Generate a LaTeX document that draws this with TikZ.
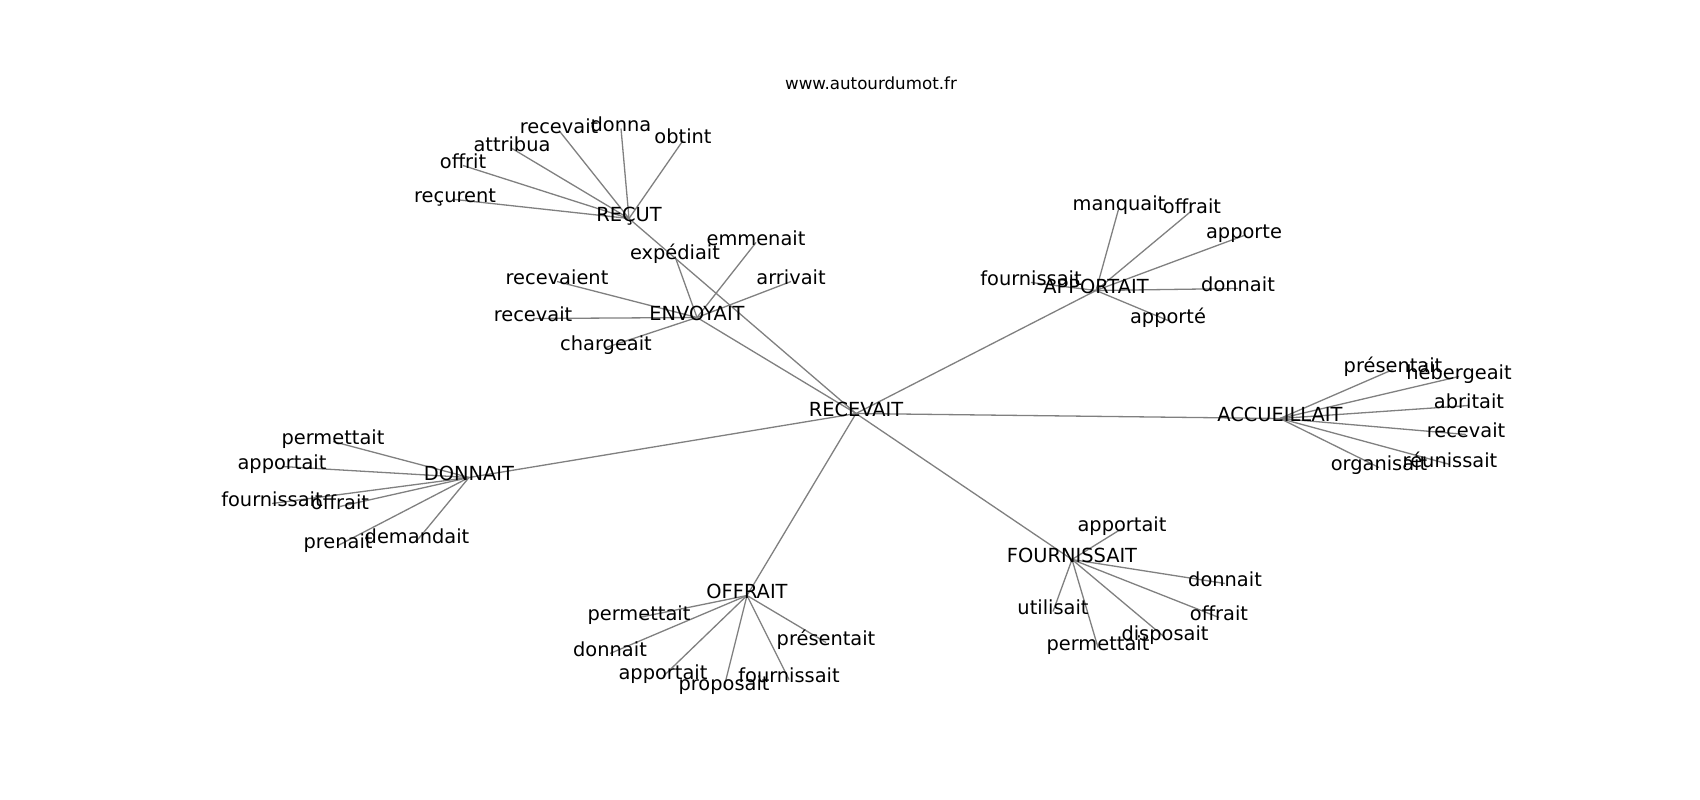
\documentclass[tikz,border=0pt]{standalone}
\usepackage{fontspec}
\setmainfont{DejaVu Sans}
\usetikzlibrary{backgrounds}
\tikzset{
  lbl/.style={inner sep=0pt, outer sep=0pt, anchor=center, text height=0.76em, text depth=0.21em, font=\fontsize{19.4}{23}\selectfont, text=black},
  ttl/.style={inner sep=0pt, anchor=center, text height=0.76em, text depth=0.21em, font=\fontsize{16.7}{20}\selectfont, text=black},
  edge/.style={draw=black!50, line width=1.3pt}
}
\begin{document}
\begin{tikzpicture}[x=1pt,y=-1pt]
\useasboundingbox (0,0) rectangle (1700,800);
\begin{scope}[shift={(0,3.5)}]
\node[ttl] (title) at (871,83) {www.autourdumot.fr};
% hubs
\node[lbl] (R) at (856,410) {RECEVAIT};
\node[lbl] (U) at (629,215) {REÇUT};
\node[lbl] (E) at (697,314) {ENVOYAIT};
\node[lbl] (A) at (1096,287) {APPORTAIT};
\node[lbl] (C) at (1280,415) {ACCUEILLAIT};
\node[lbl] (D) at (469,474) {DONNAIT};
\node[lbl] (O) at (747,592) {OFFRAIT};
\node[lbl] (F) at (1072,556) {FOURNISSAIT};
% REÇUT leaves
\node[lbl] (u1) at (559,127) {recevait};
\node[lbl] (u2) at (621,125) {donna};
\node[lbl] (u3) at (683,137) {obtint};
\node[lbl] (u4) at (512,145) {attribua};
\node[lbl] (u5) at (463,162) {offrit};
\node[lbl] (u6) at (455,196) {reçurent};
% ENVOYAIT leaves
\node[lbl] (e1) at (675,253) {expédiait};
\node[lbl] (e2) at (756,239) {emmenait};
\node[lbl] (e3) at (791,278) {arrivait};
\node[lbl] (e4) at (557,278) {recevaient};
\node[lbl] (e5) at (533,315) {recevait};
\node[lbl] (e6) at (606,344) {chargeait};
% APPORTAIT leaves
\node[lbl] (a1) at (1119,204) {manquait};
\node[lbl] (a2) at (1192,207) {offrait};
\node[lbl] (a3) at (1244,232) {apporte};
\node[lbl] (a4) at (1031,279) {fournissait};
\node[lbl] (a5) at (1238,285) {donnait};
\node[lbl] (a6) at (1168,317) {apporté};
% ACCUEILLAIT leaves
\node[lbl] (c1) at (1393,366) {présentait};
\node[lbl] (c2) at (1459,373) {hébergeait};
\node[lbl] (c3) at (1469,402) {abritait};
\node[lbl] (c4) at (1466,431) {recevait};
\node[lbl] (c5) at (1450,461) {réunissait};
\node[lbl] (c6) at (1379,464) {organisait};
% DONNAIT leaves
\node[lbl] (d1) at (333,438) {permettait};
\node[lbl] (d2) at (282,463) {apportait};
\node[lbl] (d3) at (272,500) {fournissait};
\node[lbl] (d4) at (340,503) {offrait};
\node[lbl] (d5) at (338,542) {prenait};
\node[lbl] (d6) at (417,537) {demandait};
% OFFRAIT leaves
\node[lbl] (o1) at (639,614) {permettait};
\node[lbl] (o2) at (610,650) {donnait};
\node[lbl] (o3) at (663,673) {apportait};
\node[lbl] (o4) at (724,684) {proposait};
\node[lbl] (o5) at (789,676) {fournissait};
\node[lbl] (o6) at (826,639) {présentait};
% FOURNISSAIT leaves
\node[lbl] (f1) at (1122,525) {apportait};
\node[lbl] (f2) at (1225,580) {donnait};
\node[lbl] (f3) at (1053,608) {utilisait};
\node[lbl] (f4) at (1219,614) {offrait};
\node[lbl] (f5) at (1165,634) {disposait};
\node[lbl] (f6) at (1098,644) {permettait};
\end{scope}
\begin{pgfonlayer}{background}
\fill[white] (0,0) rectangle (1700,800);
\foreach \h in {U,E,A,C,D,O,F} \draw[edge] (R.center) -- (\h.center);
\foreach \l in {u1,u2,u3,u4,u5,u6} \draw[edge] (U.center) -- (\l.center);
\foreach \l in {e1,e2,e3,e4,e5,e6} \draw[edge] (E.center) -- (\l.center);
\foreach \l in {a1,a2,a3,a4,a5,a6} \draw[edge] (A.center) -- (\l.center);
\foreach \l in {c1,c2,c3,c4,c5,c6} \draw[edge] (C.center) -- (\l.center);
\foreach \l in {d1,d2,d3,d4,d5,d6} \draw[edge] (D.center) -- (\l.center);
\foreach \l in {o1,o2,o3,o4,o5,o6} \draw[edge] (O.center) -- (\l.center);
\foreach \l in {f1,f2,f3,f4,f5,f6} \draw[edge] (F.center) -- (\l.center);
\end{pgfonlayer}
\end{tikzpicture}
\end{document}
